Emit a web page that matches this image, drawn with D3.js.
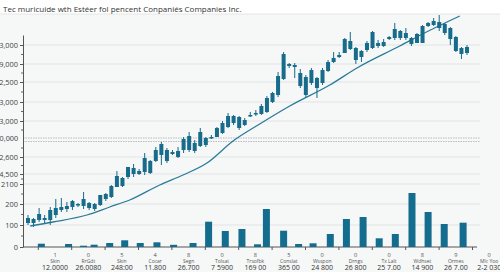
<!DOCTYPE html>
<html>
<head>
<meta charset="utf-8">
<script src="https://cdn.jsdelivr.net/npm/d3@7"></script>
<style>
  body { margin: 0; background: #fff; }
  svg { display: block; font-family: "Open Sans", "Noto Sans", sans-serif; }
</style>
</head>
<body>
<div id="container"></div>
<script>
/* CONSTANTS AND GLOBALS */
const width = 500;
const height = 272;
const candleColor = "#176b8b";

const title = "Tec muricuide wth Estéer fol pencent Conpaniés Companies Inc.";

/* DATA (price units, 80 sessions) */
const opens  = [24,24,27,27,27,32,37,38,40,42,41,39,38,42,48,50,60,61,70,73,73,75,74,86,92,86,93,90,97,97,96,101,102,109,110,114,120,124,119,122,131,133,133,135,145,152,168,181,182,174,170,164,169,164,176,185,190,194,206,199,190,197,199,204,201,208,209,216,209,209,204,204,221,222,225,223,219,210,199,194];
const highs  = [32,29,39,32,40,48,49,45,47,44,55,45,44,52,54,62,76,70,80,83,78,94,87,100,105,99,97,100,110,115,107,119,110,112,120,126,134,132,131,129,135,137,143,151,155,175,195,184,184,178,172,179,170,179,187,195,195,209,215,200,197,206,216,207,208,211,224,217,219,210,214,222,225,229,232,224,220,211,200,202];
const lows   = [22,20,25,24,22,29,35,35,37,40,38,37,36,41,46,49,60,60,68,70,72,72,73,85,82,84,92,89,94,95,94,100,100,108,110,113,119,122,117,121,130,131,132,134,144,150,167,179,169,159,150,162,149,162,175,184,189,194,197,183,185,195,198,199,200,207,207,207,207,201,204,204,220,221,216,212,202,195,188,192];
const closes = [29,28,33,29,37,39,40,41,46,43,48,44,43,52,53,61,71,69,80,79,76,89,86,97,103,97,95,96,108,111,104,115,109,110,119,124,131,131,130,127,132,134,141,149,154,171,193,183,180,161,152,177,159,177,185,189,192,208,198,187,196,204,215,201,205,210,218,209,214,203,213,221,224,226,219,214,208,196,193,200];

// trend curve (session, price)
const trendT = [0.4, 4.5, 10.6, 14.7, 18.3, 23.7, 27.9, 32.2, 36.9, 41.7, 47.1, 54.3, 59.2, 66.9, 71, 77.7];
const trendV = [21, 25, 32, 40, 47, 62, 72, 84, 106, 123, 141, 162, 179, 201, 213, 231];

// volume bars (session, volume)
const volT = [2.4, 7.3, 10, 11.9, 14.7, 17.4, 20.2, 23.2, 26.2, 29.7, 32.5, 35.5, 38.5, 41.3, 42.9, 46, 48.7, 51.3, 54.4, 57.3, 60.3, 63.2, 66.1, 69.1, 72, 74.9, 78.3];
const volV = [3.3, 3, 1.3, 2.3, 4, 6.7, 4, 4.7, 2.2, 4, 25.3, 16, 18, 2.7, 38, 16.3, 3, 3.7, 13, 28, 30, 8.7, 13, 54, 35, 23, 24.3];

// y tick labels as printed
const yTickValues = [0, 22, 43, 63, 73, 90, 126, 145, 165, 183, 202];
const yTickLabels = ["0", "100", "200", "2100", "4,500", "2,600", "3,000", "3,000", "2,500", "9,000", "3,000"];
const refLevels = [109, 105.5];
const refLabel = "0,000";

// categories under the x axis
const catCounts = ["1", "0", "5", "4", "8", "0", "8", "5", "0", "0", "0", "8", "9", "0"];
const catNames = ["Skin", "RrGdt", "Skin", "Cocar", "Segn", "Tolsat", "Trsofbk", "Conslat", "Wsspon", "Drngs", "Tx Lalt", "Wdhset", "Ormes", "Mlc Yoo"];
const catValues = ["12.0000", "26.0080", "248:00", "11.800", "26.700", "7 5900", "169 00", "365 00", "24 800", "26 800", "25 7.00", "14 900", "26 7.00", "2-2 030"];

const candles = opens.map((o, i) => ({ i, o, h: highs[i], l: lows[i], c: closes[i] }));
const trend = trendT.map((t, i) => ({ t, v: trendV[i] }));
const volume = volT.map((t, i) => ({ t, v: volV[i] }));

/* SCALES */
const xScale = d3.scaleLinear().domain([0, 79]).range([28, 467]);
const yScale = d3.scaleLinear().domain([0, 212]).range([247, 35]);
const xCat = d3.scaleBand().domain(d3.range(catNames.length)).range([38.3, 505.9]);

/* SVG */
const svg = d3.select("#container")
  .append("svg")
  .attr("width", width)
  .attr("height", height);

svg.append("rect").attr("width", width).attr("height", height).attr("fill", "#ffffff");
svg.append("rect").attr("x", 0).attr("y", 14).attr("width", width).attr("height", height - 14).attr("fill", "#f6f7f7");
svg.append("line").attr("x1", 0).attr("x2", width).attr("y1", 14).attr("y2", 14).attr("stroke", "#e4e6e6");

svg.append("text")
  .attr("x", 3).attr("y", 11.5)
  .attr("font-size", 8)
  .attr("fill", "#333")
  .text(title);

// gridlines
svg.append("g").selectAll("line")
  .data(yTickValues.filter(d => d > 0))
  .join("line")
  .attr("x1", 23).attr("x2", 480)
  .attr("y1", d => yScale(d)).attr("y2", d => yScale(d))
  .attr("stroke", "#e2e4e5");

svg.append("g").selectAll("line")
  .data(refLevels)
  .join("line")
  .attr("x1", 23).attr("x2", 480)
  .attr("y1", d => yScale(d)).attr("y2", d => yScale(d))
  .attr("stroke", "#a9abad")
  .attr("stroke-width", 0.8)
  .attr("stroke-dasharray", "1.5,1");

// y axis
const yAxis = svg.append("g")
  .attr("transform", "translate(23,0)")
  .call(d3.axisLeft(yScale)
    .tickValues(yTickValues)
    .tickFormat((d, i) => yTickLabels[i])
    .tickSizeInner(3)
    .tickSizeOuter(0)
    .tickPadding(2));
yAxis.select(".domain").attr("stroke", "#555");
yAxis.selectAll(".tick line").attr("stroke", "#555");
yAxis.selectAll(".tick text").attr("font-size", 7.4).attr("fill", "#444").attr("font-family", "Open Sans, sans-serif");

yAxis.append("text")
  .attr("x", -5).attr("y", yScale(refLevels[0]) + 2.5)
  .attr("text-anchor", "end")
  .attr("font-size", 7.4).attr("fill", "#444")
  .text(refLabel);

// minor ticks between labels
const minor = d3.pairs([...yTickValues, 108].sort((a, b) => a - b)).map(p => (p[0] + p[1]) / 2);
yAxis.selectAll("line.minor")
  .data(minor)
  .join("line")
  .attr("class", "minor")
  .attr("x1", -2).attr("x2", 0)
  .attr("y1", d => yScale(d)).attr("y2", d => yScale(d))
  .attr("stroke", "#666");

// x axis
svg.append("line")
  .attr("x1", 23).attr("x2", 477)
  .attr("y1", yScale(0)).attr("y2", yScale(0))
  .attr("stroke", "#555");

const bounds = d3.range(catNames.length).map(i => xCat(i)).filter(v => v < 478);
svg.append("g").selectAll("line")
  .data(bounds)
  .join("line")
  .attr("x1", d => d).attr("x2", d => d)
  .attr("y1", yScale(0)).attr("y2", yScale(0) + 3)
  .attr("stroke", "#555");

const cat = svg.append("g").selectAll("g")
  .data(d3.range(catNames.length))
  .join("g")
  .attr("transform", d => `translate(${xCat(d) + xCat.bandwidth() / 2},0)`)
  .attr("text-anchor", "middle");
cat.append("text").attr("y", 256.5).attr("font-size", 5.6).attr("fill", "#555").text(d => catCounts[d]);
cat.append("text").attr("y", 262.8).attr("font-size", 5).attr("fill", "#555").text(d => catNames[d]);
cat.append("text").attr("y", 270).attr("font-size", 7).attr("fill", "#333").text(d => catValues[d]);

// volume bars
svg.append("g").selectAll("rect")
  .data(volume)
  .join("rect")
  .attr("x", d => xScale(d.t) - 3.5)
  .attr("width", 7)
  .attr("y", d => yScale(d.v))
  .attr("height", d => yScale(0) - yScale(d.v))
  .attr("fill", "#146d8e");

// trend curve
svg.append("path")
  .datum(trend)
  .attr("fill", "none")
  .attr("stroke", "#2a7b9b")
  .attr("stroke-width", 1.3)
  .attr("d", d3.line().x(d => xScale(d.t)).y(d => yScale(d.v)).curve(d3.curveMonotoneX));

// candles
const cg = svg.append("g").selectAll("g")
  .data(candles)
  .join("g");
cg.append("line")
  .attr("x1", d => xScale(d.i)).attr("x2", d => xScale(d.i))
  .attr("y1", d => yScale(d.h)).attr("y2", d => yScale(d.l))
  .attr("stroke", candleColor)
  .attr("stroke-width", 1);
cg.append("rect")
  .attr("x", d => xScale(d.i) - 2)
  .attr("width", 4)
  .attr("y", d => yScale(Math.max(d.o, d.c)))
  .attr("height", d => Math.max(1.5, Math.abs(yScale(d.o) - yScale(d.c))))
  .attr("fill", candleColor);
</script>
</body>
</html>
